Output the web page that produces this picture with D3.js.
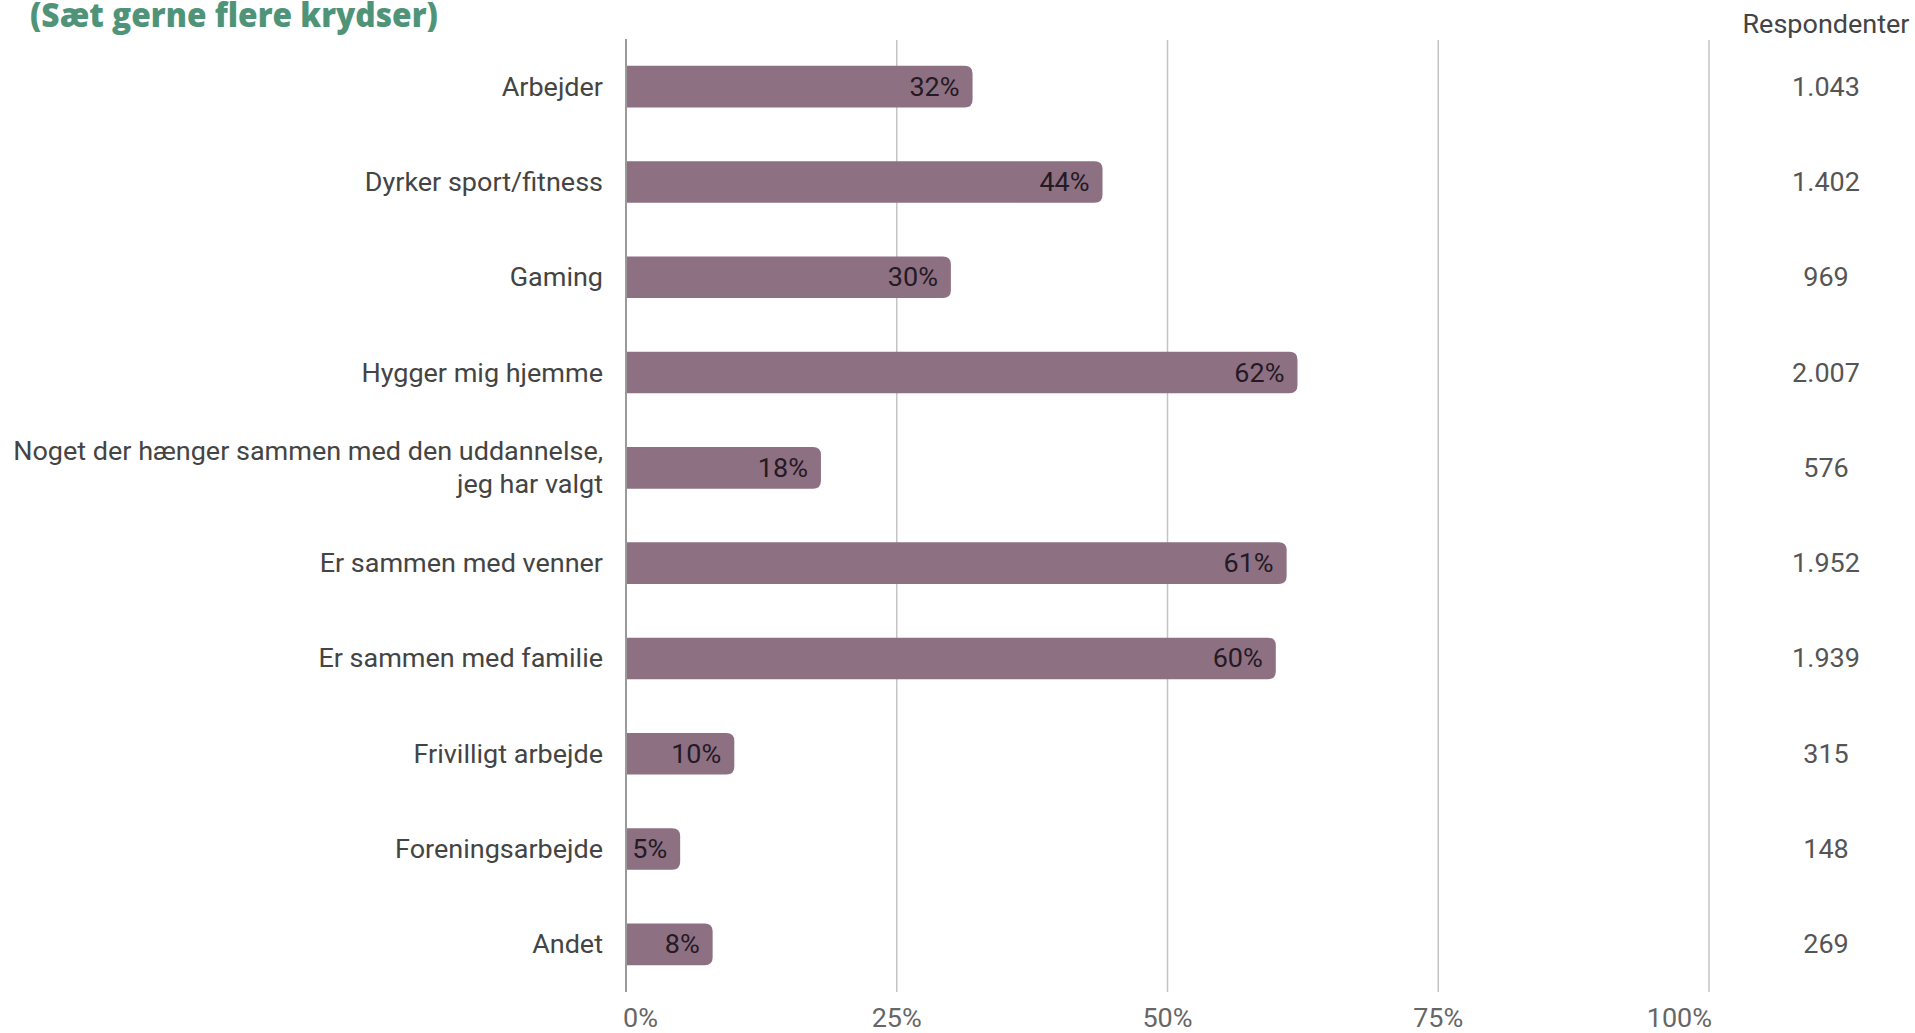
<!DOCTYPE html>
<html><head><meta charset="utf-8">
<script src="https://cdn.jsdelivr.net/npm/d3@7"></script>
<style>html,body{margin:0;padding:0;background:#fff;overflow:hidden}</style>
</head><body>
<svg id="chart" width="1915" height="1033"></svg>
<script>
const title = "(Sæt gerne flere krydser)";
const categories = ["Arbejder","Dyrker sport/fitness","Gaming","Hygger mig hjemme","Noget der hænger sammen med den uddannelse,\njeg har valgt","Er sammen med venner","Er sammen med familie","Frivilligt arbejde","Foreningsarbejde","Andet"];
const percentValues = [32,44,30,62,18,61,60,10,5,8];
const respondents = ["1.043","1.402","969","2.007","576","1.952","1.939","315","148","269"];
const respondentsHeader = "Respondenter";
const xTicks = [0,25,50,75,100];

const SX = 1.08; // horizontal stretch of the reference's text
const FS = 25;
const svg = d3.select("#chart");
const x = d3.scaleLinear().domain([0,100]).range([626,1709]);
const y = d3.scaleBand().domain(categories).range([39,992]).paddingInner(0.563).paddingOuter(0.2815);

function place(sel, fx, fy){
  sel.attr("transform",(d,i)=>`translate(${fx(d,i)},${fy(d,i)}) scale(${SX},1)`);
}

// grid
svg.append("g").selectAll("line").data(xTicks.slice(1)).join("line")
  .attr("x1",d=>x(d)).attr("x2",d=>x(d)).attr("y1",40).attr("y2",992)
  .attr("stroke","#c4c4c4").attr("stroke-width",1.5);

// tick labels
const tl = svg.append("g").selectAll("text").data(xTicks).join("text")
  .attr("text-anchor",(d,i)=> i===0 ? "start" : (i===xTicks.length-1 ? "end" : "middle"))
  .attr("font-family","Roboto").attr("font-size",FS).attr("fill","#666")
  .text(d=>d+"%");
place(tl,(d,i)=> i===0 ? x(d)-3 : (i===xTicks.length-1 ? x(d)+3 : x(d)), ()=>1027);

// bars (square left, rounded right)
const r = 8, bh = y.bandwidth();
svg.append("g").selectAll("path").data(categories).join("path")
  .attr("fill","#8e7083")
  .attr("d",(c,i)=>{
    const x0 = x(0), x1 = x(percentValues[i]), y0 = y(c), y1 = y0+bh;
    const rr = Math.min(r,(x1-x0)/2);
    return `M${x0},${y0}H${x1-rr}Q${x1},${y0} ${x1},${y0+rr}V${y1-rr}Q${x1},${y1} ${x1-rr},${y1}H${x0}Z`;
  });

// axis line
svg.append("line").attr("x1",x(0)).attr("x2",x(0)).attr("y1",39).attr("y2",992)
  .attr("stroke","#9a9a9a").attr("stroke-width",2);

// value labels
const vl = svg.append("g").selectAll("text").data(categories).join("text")
  .attr("dy","0.36em").attr("text-anchor","end")
  .attr("font-family","Roboto").attr("font-size",FS).attr("fill","#241a24")
  .text((c,i)=>percentValues[i]+"%");
place(vl,(c,i)=> x(percentValues[i]) - 13, c=> y(c)+bh/2);

// category labels
const lab = svg.append("g").selectAll("text").data(categories).join("text")
  .attr("text-anchor","end")
  .attr("font-family","Roboto").attr("font-size",FS).attr("fill","#444");
place(lab,()=>603, c=>y(c)+bh/2);
lab.each(function(c){
  const lines = c.split("\n");
  const t = d3.select(this);
  const lh = 33;
  lines.forEach((ln,k)=>{
    t.append("tspan").attr("x",0)
      .attr("y", (k-(lines.length-1)/2)*lh)
      .attr("dy","0.36em").text(ln);
  });
});

// respondents
const hd = svg.append("text").datum(0).attr("text-anchor","middle")
  .attr("font-family","Roboto").attr("font-size",FS).attr("fill","#444").text(respondentsHeader);
place(hd,()=>1826,()=>33);
const rs = svg.append("g").selectAll("text").data(categories).join("text")
  .attr("dy","0.36em").attr("text-anchor","middle")
  .attr("font-family","Roboto").attr("font-size",FS).attr("fill","#555")
  .text((c,i)=>respondents[i]);
place(rs,()=>1826,c=>y(c)+bh/2);

// title
const tt = svg.append("text").attr("x",0).attr("y",0)
  .attr("font-family","'Open Sans'").attr("font-weight",800).attr("font-size",30)
  .attr("fill","#4f9479").text(title);
const w = tt.node().getComputedTextLength();
const tfs = 30*408/w;
tt.attr("font-size", tfs);
const ky = 24/(0.714*tfs);
tt.attr("transform",`translate(30,27) scale(1,${ky})`);
</script>
</body></html>
